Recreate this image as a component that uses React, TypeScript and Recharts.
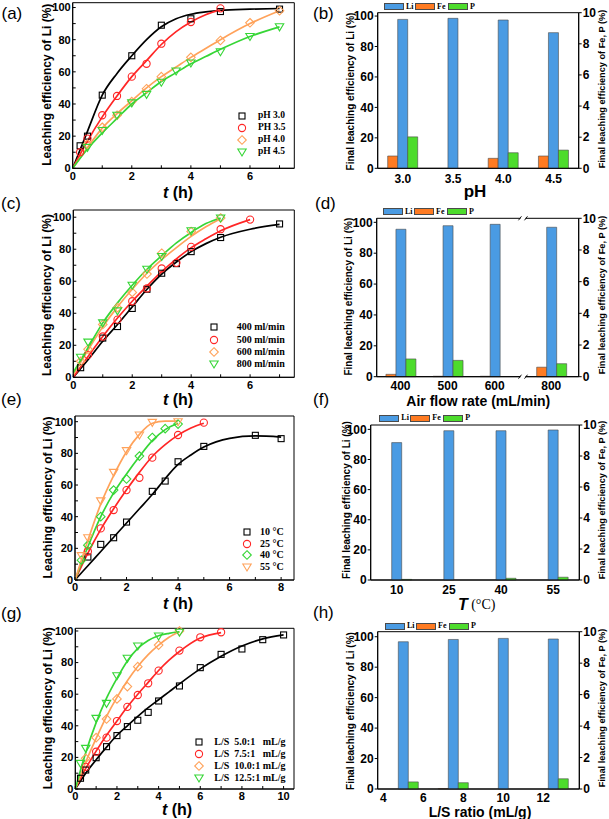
import React from "react";
import {
  Bar,
  BarChart,
  ComposedChart,
  Legend,
  Line,
  ReferenceArea,
  ReferenceDot,
  Scatter,
  XAxis,
  YAxis,
} from "recharts";

const SANS = "'Liberation Sans', Arial, Helvetica, sans-serif";
const SERIF = "'Liberation Serif', 'Times New Roman', serif";

const BLACK = "#000000";
const RED = "#ff2626";
const ORANGE = "#ffa25a";
const GREEN = "#36d636";

const LI_BLUE = "#4a9be3";
const FE_ORANGE = "#ff7b22";
const P_GREEN = "#4ddc2c";
const BAR_EDGE = "#4a4a4a";

// ---------- (a) pH ----------
const aNames = ["pH 3.0", "PH 3.5", "pH 4.0", "pH 4.5"];
const aT30 = [0.25, 0.5, 1, 2, 3, 4, 5, 7];
const aY30 = [14, 20, 45.5, 70, 89, 93, 97.5, 99];
const aT35 = [0.25, 0.5, 1, 1.5, 2, 2.5, 3, 4, 5];
const aY35 = [10, 18.5, 33, 45, 57, 65, 77.5, 91, 99.5];
const aT40 = [0.5, 1, 1.5, 2, 2.5, 3, 4, 5, 6, 7];
const aY40 = [15, 25.5, 33, 41.5, 49.5, 57, 69, 79.5, 90.5, 98];
const aT45 = [0.5, 1, 1.5, 2, 2.5, 3, 3.5, 4, 5, 6, 7];
const aY45 = [13, 23.5, 33, 40.7, 46, 53.5, 60.5, 65.5, 72.5, 82, 88];
// fitted curves
const aFitT = [0, 0.5, 1, 1.5, 2, 2.5, 3, 3.5, 4, 4.5, 5, 6, 7];
const aFit30 = [0, 23, 45.5, 59, 70, 80, 88, 93, 95.8, 97.3, 98.3, 99, 99.4];
const aFit35 = [0, 17, 32, 45, 57, 67, 77, 85, 91, 95.5, 98.5];
const aFit40 = [0, 13, 25, 34, 42, 50, 57, 63, 69, 74.5, 80, 90, 98];
const aFit45 = [0, 12, 22, 31, 40, 47, 54, 59.5, 65, 69.5, 74, 82, 88];

// ---------- (b) final, vs pH ----------
const bPh = ["3.0", "3.5", "4.0", "4.5"];
const bLi = [97.8, 98.5, 97.4, 89.1];
const bFe = [0.79, 0, 0.64, 0.79];
const bP = [2.02, 0, 1.0, 1.17];

// ---------- (c) air flow ----------
const cNames = ["400 ml/min", "500 ml/min", "600 ml/min", "800 ml/min"];
const cT400 = [0.25, 1, 1.5, 2, 2.5, 3, 3.5, 4, 5, 7];
const cY400 = [6, 24.5, 31.7, 43, 55, 65, 71, 78.5, 87.3, 95.8];
const cT500 = [0.5, 1, 1.5, 2, 2.5, 3, 3.5, 4, 5, 6];
const cY500 = [14, 25.5, 36, 47.5, 55.5, 68, 71.5, 81.5, 92.5, 98.5];
const cT600 = [0.25, 0.5, 1, 1.5, 2, 2.5, 3, 4, 5];
const cY600 = [10, 17.5, 33, 43.5, 53, 64.5, 77.5, 91, 99.5];
const cT800 = [0.25, 0.5, 1, 1.5, 2, 2.5, 3, 4, 5];
const cY800 = [12.5, 22, 34, 41.5, 57.5, 67.5, 75.5, 91.5, 99.5];
const cFitT = [0, 0.5, 1, 1.5, 2, 2.5, 3, 3.5, 4, 4.5, 5, 6, 7];
const cFit400 = [0, 11, 22.5, 33, 44, 55, 64.5, 72, 78.5, 83.5, 87.5, 92.5, 95.5];
const cFit500 = [0, 13, 25.5, 37, 47.5, 57, 66, 74, 81, 86.5, 91.5, 98.5];
const cFit600 = [1.5, 17, 31.5, 44, 55, 65, 73.5, 81, 88, 94, 99];
const cFit800 = [3, 18.5, 34, 46.5, 57.5, 67.5, 76, 84, 90.5, 96, 99.5];

// ---------- (d) final, vs air flow ----------
const dAir = [400, 500, 600, 800];
const dLi = [95.5, 97.8, 98.7, 96.8];
const dFe = [0.15, 0.03, 0.03, 0.6];
const dP = [1.12, 1.03, 0, 0.82];

// ---------- (e) temperature ----------
const eNames = ["10 \u00b0C", "25 \u00b0C", "40 \u00b0C", "55 \u00b0C"];
const eT10 = [0.5, 1, 1.5, 2, 3, 3.5, 4, 5, 7, 8];
const eY10 = [14.5, 22.5, 26.7, 36.6, 56, 62.5, 74.7, 84.4, 91.4, 89.3];
const eT25 = [0.5, 1, 1.5, 2, 2.5, 3, 4, 5];
const eY25 = [18, 32.6, 44.2, 56.8, 64.6, 77.3, 91.6, 99.4];
const eT40 = [0.25, 0.5, 1, 1.5, 2, 2.5, 3, 3.5, 4];
const eY40 = [12.5, 22, 40, 56.8, 63.8, 78.3, 90, 95.6, 98.5];
const eT55 = [0.25, 0.5, 1, 1.5, 2, 2.5, 3, 4];
const eY55 = [15.4, 26.7, 50, 68, 81.7, 91.6, 99.6, 100];
const eFitT = [0, 0.5, 1, 1.5, 2, 2.5, 3, 3.5, 4, 4.5, 5, 6, 7, 8];
const eFit10 = [0, 9, 18, 27, 36, 45, 54, 64, 73, 79, 84, 89.5, 91, 90.3];
const eFit25 = [0, 17, 32, 45, 57, 68, 78, 85.5, 91.5, 96, 99];
const eFit40 = [0, 21, 40, 55, 67, 78, 88, 95, 99];
const eFit55 = [0, 25, 48, 66, 81, 92, 99, 100.3, 100.3];

// ---------- (f) final, vs temperature ----------
const fTemp = ["10", "25", "40", "55"];
const fLi = [91.2, 99.1, 99.1, 99.6];
const fFe = [0, 0, 0, 0];
const fP = [0.04, 0, 0.11, 0.18];

// ---------- (g) L/S ratio ----------
const gNames = [
  "L/S  5.0:1   mL/g",
  "L/S  7.5:1   mL/g",
  "L/S  10.0:1 mL/g",
  "L/S  12.5:1 mL/g",
];
const gT50 = [0.25, 0.5, 1, 1.5, 2, 2.5, 3, 3.5, 4, 5, 6, 7, 8, 9, 10];
const gY50 = [6.8, 12, 19.8, 26.8, 33.8, 39.5, 43.5, 48.5, 55.7, 65.2, 76.8, 85.2, 88.6, 94.5, 97.5];
const gT75 = [0.5, 1, 1.5, 2, 2.5, 3, 3.5, 4, 5, 6, 7];
const gY75 = [14, 23.6, 32.5, 43, 52, 59.5, 66.9, 74.9, 87.6, 96, 99.2];
const gT100 = [0.5, 1, 1.5, 2, 2.5, 3, 4, 5];
const gY100 = [19.4, 32.5, 44.3, 57, 64.8, 77.4, 91.1, 100];
const gT125 = [0.25, 0.5, 1, 1.5, 2, 2.5, 3, 4, 5];
const gY125 = [16.2, 25.7, 44.7, 54.2, 71.7, 82.7, 90.5, 96.8, 99.2];
const gFitT = [0, 0.5, 1, 1.5, 2, 2.5, 3, 3.5, 4, 4.5, 5, 6, 7, 8, 9, 10];
const gFit50 = [0, 10, 18.5, 26.5, 34, 40, 46, 51.5, 56.5, 61.5, 66.5, 76, 84, 90.5, 95, 97.5];
const gFit75 = [0, 13, 24, 34, 43, 52, 60, 67.5, 75, 81.5, 87, 95.5, 99];
const gFit100 = [0, 17, 32, 46, 58, 68.5, 77.5, 85, 91, 96, 99.5];
const gFit125 = [0, 23, 42, 57.5, 70, 81, 89, 94, 97, 98.5, 99.5];

// ---------- (h) final, vs L/S ratio ----------
const hRatio = [5, 7.5, 10, 12.5];
const hLi = [96.7, 98.2, 98.9, 98.5];
const hFe = [0, 0.03, 0, 0];
const hP = [0.45, 0.4, 0, 0.65];
const hTicks = [4, 6, 8, 10, 12];

const barNames = ["Li", "Fe", "P"];

type Kind = "square" | "circle" | "diamond" | "tri";

const zip = (ts: number[], ys: number[]) => ys.map((y, i) => ({ t: ts[i], y }));
const mk = (name: string, color: string, kind: Kind, ts: number[], ys: number[], ft: number[], fy: number[]) => ({
  name,
  color,
  kind,
  pts: zip(ts, ys),
  fit: zip(ft, fy),
});

const aSeries = [
  mk(aNames[0], BLACK, "square", aT30, aY30, aFitT, aFit30),
  mk(aNames[1], RED, "circle", aT35, aY35, aFitT, aFit35),
  mk(aNames[2], ORANGE, "diamond", aT40, aY40, aFitT, aFit40),
  mk(aNames[3], GREEN, "tri", aT45, aY45, aFitT, aFit45),
];
const cSeries = [
  mk(cNames[0], BLACK, "square", cT400, cY400, cFitT, cFit400),
  mk(cNames[1], RED, "circle", cT500, cY500, cFitT, cFit500),
  mk(cNames[2], ORANGE, "diamond", cT600, cY600, cFitT, cFit600),
  mk(cNames[3], GREEN, "tri", cT800, cY800, cFitT, cFit800),
];
const eSeries = [
  mk(eNames[0], BLACK, "square", eT10, eY10, eFitT, eFit10),
  mk(eNames[1], RED, "circle", eT25, eY25, eFitT, eFit25),
  mk(eNames[2], GREEN, "diamond", eT40, eY40, eFitT, eFit40),
  mk(eNames[3], ORANGE, "tri", eT55, eY55, eFitT, eFit55),
];
const gSeries = [
  mk(gNames[0], BLACK, "square", gT50, gY50, gFitT, gFit50),
  mk(gNames[1], RED, "circle", gT75, gY75, gFitT, gFit75),
  mk(gNames[2], ORANGE, "diamond", gT100, gY100, gFitT, gFit100),
  mk(gNames[3], GREEN, "tri", gT125, gY125, gFitT, gFit125),
];

// axis break for (d): 800 is drawn closer to 600
const brk = (v: number) => (v <= 600 ? v : 600 + (v - 600) * 0.6);

const rowsOf = (xs: (string | number)[], li: number[], fe: number[], p: number[]) =>
  xs.map((x, i) => ({ x, li: li[i], fe: fe[i], p: p[i] }));

function Marker({ kind, x, y, color }: { kind: Kind; x: number; y: number; color: string }) {
  const common = { fill: "none", stroke: color, strokeWidth: 1.1 };
  if (kind === "square") return <rect x={x - 3} y={y - 3} width={6} height={6} {...common} />;
  if (kind === "circle") return <circle cx={x} cy={y} r={3.6} {...common} />;
  if (kind === "diamond")
    return <polygon points={`${x},${y - 4.3} ${x + 4.3},${y} ${x},${y + 4.3} ${x - 4.3},${y}`} {...common} />;
  return <polygon points={`${x - 4.2},${y - 3} ${x + 4.2},${y - 3} ${x},${y + 4}`} {...common} />;
}

const vTitle = (cx: number, cy: number, size: number, text: string) => () => (
  <text
    x={cx}
    y={cy}
    transform={`rotate(-90 ${cx} ${cy})`}
    textAnchor="middle"
    dominantBaseline="central"
    fontFamily={SANS}
    fontWeight={700}
    fontSize={size}
    fill="#000"
  >
    {text}
  </text>
);

const hTitle = (cx: number, cy: number, size: number, body: React.ReactNode) => () => (
  <text
    x={cx}
    y={cy}
    textAnchor="middle"
    dominantBaseline="central"
    fontFamily={SANS}
    fontWeight={700}
    fontSize={size}
    fill="#000"
  >
    {body}
  </text>
);

const tHours = (
  <>
    <tspan fontStyle="italic">t</tspan>
    <tspan> (h)</tspan>
  </>
);

function LinePanel({ box, plot, xMax, yMax, series, legend, yTitleAt, xTitleAt }: any) {
  const [x0, y0, w, h] = box;
  const [l, r, t, b] = plot;
  const xTicks = Array.from({ length: Math.floor(xMax) + 1 }, (_, i) => i);
  const yTicks = Array.from({ length: 11 }, (_, i) => i * 10);
  const tickStyle = { fill: "#000", fontSize: 11, fontWeight: 700, fontFamily: SANS };
  const legendContent = () => (
    <div style={{ fontFamily: SERIF, fontWeight: 700, fontSize: legend.font, color: "#000" }}>
      {series.map((s: any) => (
        <div key={s.name} style={{ display: "flex", alignItems: "center", height: legend.step }}>
          <svg width={12} height={12} style={{ flex: "none" }}>
            <Marker kind={s.kind} x={6} y={6} color={s.color} />
          </svg>
          <span style={{ marginLeft: legend.gap, whiteSpace: "pre", lineHeight: 1 }}>{s.name}</span>
        </div>
      ))}
    </div>
  );
  return (
    <div style={{ position: "absolute", left: x0, top: y0, width: w, height: h }}>
      <ComposedChart width={w} height={h} margin={{ top: t - y0, right: x0 + w - r, bottom: 0, left: 0 }}>
        <XAxis
          type="number"
          dataKey="t"
          domain={[0, xMax]}
          ticks={xTicks}
          interval={0}
          tickFormatter={(v: number) => (v % 2 === 0 ? String(v) : "")}
          height={y0 + h - b}
          tickSize={-3}
          tickMargin={6.5}
          tick={tickStyle}
          axisLine={{ stroke: "#000" }}
          tickLine={{ stroke: "#000" }}
          label={hTitle(xTitleAt[0], xTitleAt[1], 16, tHours)}
        />
        <YAxis
          type="number"
          domain={[0, yMax]}
          ticks={yTicks}
          interval={0}
          tickFormatter={(v: number) => (v % 20 === 0 ? String(v) : "")}
          width={l - x0}
          tickSize={-3}
          tickMargin={5}
          tick={tickStyle}
          axisLine={{ stroke: "#000" }}
          tickLine={{ stroke: "#000" }}
          label={vTitle(yTitleAt[0], yTitleAt[1], 12, "Leaching efficiency of Li (%)")}
        />
        <ReferenceArea y1={0} y2={yMax} fill="none" stroke="#000" strokeWidth={1} />
        {series.map((s: any) => (
          <Line
            key={"fit" + s.name}
            data={s.fit}
            dataKey="y"
            type="monotone"
            stroke={s.color}
            strokeWidth={1.7}
            dot={false}
            legendType="none"
            isAnimationActive={false}
          />
        ))}
        {series.map((s: any) => (
          <Scatter
            key={"pts" + s.name}
            name={s.name}
            data={s.pts}
            dataKey="y"
            shape={(p: any) => <Marker kind={s.kind} x={p.cx} y={p.cy} color={s.color} />}
            isAnimationActive={false}
          />
        ))}
        <Legend
          layout="horizontal"
          verticalAlign="middle"
          align="center"
          content={legendContent}
          wrapperStyle={{
            left: legend.mx - 6,
            top: legend.y - legend.step / 2,
            width: 110,
            height: legend.step * 4,
          }}
        />
      </ComposedChart>
    </div>
  );
}

function BreakMark({ cx, cy }: { cx: number; cy: number }) {
  return (
    <g>
      <rect x={cx - 2.5} y={cy - 1.5} width={5} height={3} fill="#fff" />
      <line x1={cx - 4.5} y1={cy + 2} x2={cx - 1.5} y2={cy - 2} stroke="#000" strokeWidth={0.9} />
      <line x1={cx + 1.5} y1={cy + 2} x2={cx + 4.5} y2={cy - 2} stroke="#000" strokeWidth={0.9} />
    </g>
  );
}

function BarPanel({ box, plot, leftMax, rows, numeric, xDomain, xTicks, xFmt, tickGap, xTitle, leftAt, rightAt, legendAt, breakAt }: any) {
  const [x0, y0, w, h] = box;
  const [l, r, t, b] = plot;
  const tickStyle = { fill: "#000", fontSize: 12, fontWeight: 700, fontFamily: SANS };
  const colors = [LI_BLUE, FE_ORANGE, P_GREEN];
  const itemW = [31, 33, 24];
  const legendContent = () => (
    <div style={{ display: "flex", alignItems: "center", fontFamily: SERIF, fontWeight: 700, fontSize: 8, color: "#000" }}>
      {barNames.map((n, i) => (
        <div key={n} style={{ display: "flex", alignItems: "center", width: itemW[i] }}>
          <div style={{ width: 18, height: 5, background: colors[i], border: `1px solid ${BAR_EDGE}`, flex: "none" }} />
          <span style={{ marginLeft: 2, lineHeight: 1 }}>{n}</span>
        </div>
      ))}
    </div>
  );
  return (
    <div style={{ position: "absolute", left: x0, top: y0, width: w, height: h }}>
      <BarChart
        width={w}
        height={h}
        data={rows}
        barSize={10}
        barGap={0}
        margin={{ top: t - y0, right: 0, bottom: 0, left: 0 }}
      >
        <XAxis
          dataKey="x"
          type={numeric ? "number" : "category"}
          domain={xDomain}
          ticks={xTicks}
          tickFormatter={xFmt}
          interval={0}
          tickLine={false}
          tickSize={0}
          tickMargin={tickGap}
          height={y0 + h - b}
          tick={tickStyle}
          axisLine={{ stroke: "#000" }}
          label={xTitle}
        />
        <YAxis
          yAxisId="left"
          type="number"
          domain={[0, leftMax]}
          ticks={[0, 20, 40, 60, 80, 100]}
          interval={0}
          width={l - x0}
          tickSize={3}
          tickMargin={1}
          tick={tickStyle}
          axisLine={{ stroke: "#000" }}
          tickLine={{ stroke: "#000" }}
          label={vTitle(leftAt[0], leftAt[1], 10, "Final leaching efficiency of Li (%)")}
        />
        <YAxis
          yAxisId="right"
          orientation="right"
          type="number"
          domain={[0, 10]}
          ticks={[0, 2, 4, 6, 8, 10]}
          interval={0}
          width={x0 + w - r}
          tickSize={3}
          tickMargin={1}
          tick={tickStyle}
          axisLine={{ stroke: "#000" }}
          tickLine={{ stroke: "#000" }}
          label={vTitle(rightAt[0], rightAt[1], 9.2, "Final leaching efficiency of Fe, P (%)")}
        />
        <ReferenceArea yAxisId="left" y1={0} y2={leftMax} fill="none" stroke="#000" strokeWidth={1} />
        <Bar yAxisId="right" dataKey="fe" fill={FE_ORANGE} stroke={BAR_EDGE} strokeWidth={0.6} isAnimationActive={false} />
        <Bar yAxisId="left" dataKey="li" fill={LI_BLUE} stroke={BAR_EDGE} strokeWidth={0.6} isAnimationActive={false} />
        <Bar yAxisId="right" dataKey="p" fill={P_GREEN} stroke={BAR_EDGE} strokeWidth={0.6} isAnimationActive={false} />
        {breakAt !== undefined &&
          [0, leftMax].map((yv) => (
            <ReferenceDot
              key={yv}
              yAxisId="left"
              x={breakAt}
              y={yv}
              r={0}
              ifOverflow="visible"
              shape={(p: any) => <BreakMark cx={p.cx} cy={p.cy} />}
            />
          ))}
        <Legend
          layout="horizontal"
          verticalAlign="middle"
          align="center"
          content={legendContent}
          wrapperStyle={{ left: legendAt[0], top: legendAt[1], width: 100, height: 8 }}
        />
      </BarChart>
    </div>
  );
}

const panelTags = ["(a)", "(b)", "(c)", "(d)", "(e)", "(f)", "(g)", "(h)"];
const tagSpots = [
  [1.5, 14],
  [313, 14],
  [1, 204],
  [315, 204],
  [1, 400],
  [313, 400],
  [1, 614],
  [313, 613],
];

export default function App() {
  const dPos = dAir.map(brk);
  const dRows = rowsOf(dPos, dLi, dFe, dP);
  return (
    <div
      style={{
        position: "absolute",
        left: 0,
        top: 0,
        width: 609,
        height: 819,
        background: "#fff",
        overflow: "hidden",
        fontFamily: SANS,
      }}
    >
      <LinePanel
        box={[0, 0, 300, 205]}
        plot={[72.7, 294.3, 2.7, 168.3]}
        xMax={7.5}
        yMax={103}
        series={aSeries}
        legend={{ mx: 242, y: 116, gap: 10, step: 12, font: 9.5 }}
        yTitleAt={[46.7, 84.7]}
        xTitleAt={[178, 191.5]}
      />
      <LinePanel
        box={[0, 205, 300, 205]}
        plot={[73.3, 294.3, 210, 377.3]}
        xMax={7.5}
        yMax={104.5}
        series={cSeries}
        legend={{ mx: 214, y: 122.3, gap: 16.7, step: 12.3, font: 10 }}
        yTitleAt={[46.7, 90]}
        xTitleAt={[178, 193.5]}
      />
      <LinePanel
        box={[0, 410, 300, 205]}
        plot={[75, 294, 416, 580]}
        xMax={8.5}
        yMax={103.6}
        series={eSeries}
        legend={{ mx: 246.7, y: 121.7, gap: 7.3, step: 11.9, font: 10 }}
        yTitleAt={[48.3, 87.5]}
        xTitleAt={[178, 193]}
      />
      <LinePanel
        box={[0, 615, 300, 204]}
        plot={[75.3, 294, 628.3, 789]}
        xMax={10.5}
        yMax={101.7}
        series={gSeries}
        legend={{ mx: 199.3, y: 126.7, gap: 9, step: 12.2, font: 10 }}
        yTitleAt={[48.3, 93.3]}
        xTitleAt={[177, 194]}
      />

      <BarPanel
        box={[300, 0, 309, 205]}
        plot={[377.7, 578.7, 12.7, 168.3]}
        leftMax={102.2}
        rows={rowsOf(bPh, bLi, bFe, bP)}
        numeric={false}
        tickGap={6}
        xTitle={hTitle(175, 191, 17, "pH")}
        leftAt={[50, 91.5]}
        rightAt={[301.7, 89]}
        legendAt={[84, 2.5]}
      />
      <BarPanel
        box={[300, 205, 309, 205]}
        plot={[376.7, 578.7, 218.3, 376.7]}
        leftMax={102.6}
        rows={dRows}
        numeric={true}
        xDomain={[349.5, 778.3]}
        xTicks={dPos}
        xFmt={(v: number) => String(dAir[dPos.indexOf(v)] ?? "")}
        tickGap={4.5}
        xTitle={hTitle(178.3, 196, 14, "Air flow rate (mL/min)")}
        leftAt={[48.3, 91.7]}
        rightAt={[301.7, 90]}
        legendAt={[83, 2.5]}
        breakAt={(dPos[2] + dPos[3]) / 2}
      />
      <BarPanel
        box={[300, 410, 309, 205]}
        plot={[370.7, 579.3, 425, 580]}
        leftMax={102.9}
        rows={rowsOf(fTemp, fLi, fFe, fP)}
        numeric={false}
        tickGap={5.5}
        xTitle={hTitle(
          176.7,
          193.5,
          16,
          <>
            <tspan fontStyle="italic">T</tspan>
            <tspan fontFamily={SERIF} fontWeight={400} fontSize={14}>
              {" (\u00b0C)"}
            </tspan>
          </>
        )}
        leftAt={[46.7, 90]}
        rightAt={[301.7, 90]}
        legendAt={[79.3, 4]}
      />
      <BarPanel
        box={[300, 615, 309, 204]}
        plot={[377.7, 579.3, 631.7, 789]}
        leftMax={103.3}
        rows={rowsOf(hRatio, hLi, hFe, hP)}
        numeric={true}
        xDomain={[3.72, 13.8]}
        xTicks={hTicks}
        tickGap={4}
        xTitle={hTitle(180, 196.5, 14, "L/S ratio (mL/g)")}
        leftAt={[50, 96]}
        rightAt={[301.7, 93]}
        legendAt={[85, 7]}
      />

      {panelTags.map((tag, i) => (
        <div
          key={tag}
          style={{
            position: "absolute",
            left: tagSpots[i][0],
            top: tagSpots[i][1] - 10,
            fontSize: 17,
            lineHeight: "20px",
            fontFamily: SANS,
            color: "#000",
          }}
        >
          {tag}
        </div>
      ))}
    </div>
  );
}
